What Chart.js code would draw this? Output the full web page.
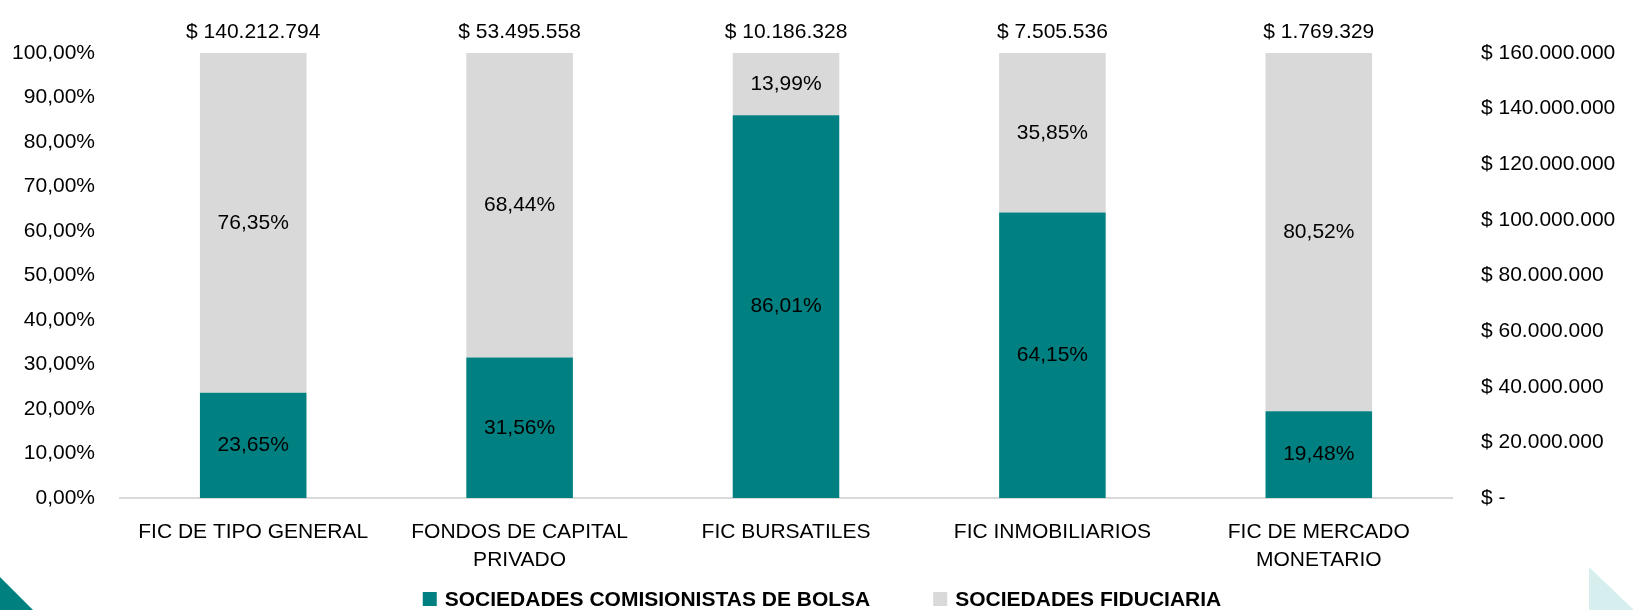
<!DOCTYPE html>
<html>
<head>
  <meta charset="utf-8">
  <title>fic</title>
  <script src="https://cdn.jsdelivr.net/npm/chart.js@4.4.1/dist/chart.umd.min.js"></script>
  <style>
    body { margin: 0; background: #fff; }
    #wrap { position: relative; width: 1636px; height: 610px; overflow: hidden; }
    .tri { position: absolute; }
    #tri-left { left: 0; top: 577px; width: 33px; height: 33px; background: #00807f; clip-path: polygon(0 0, 100% 100%, 0 100%); }
    #tri-right { left: 1589px; top: 567px; width: 47px; height: 45px; background: #d6eeee; clip-path: polygon(0 0, 100% 100%, 0 100%); }
  </style>
</head>
<body>
  <div id="wrap">
    <canvas id="chart"></canvas>
    <div class="tri" id="tri-left"></div>
    <div class="tri" id="tri-right"></div>
  </div>
  <script>
  const categories = [
    'FIC DE TIPO GENERAL',
    ['FONDOS DE CAPITAL', 'PRIVADO'],
    'FIC BURSATILES',
    'FIC INMOBILIARIOS',
    ['FIC DE MERCADO', 'MONETARIO']
  ];
  const comisionistas = [23.65, 31.56, 86.01, 64.15, 19.48];
  const fiduciarias = [76.35, 68.44, 13.99, 35.85, 80.52];
  const totals = [140212794, 53495558, 10186328, 7505536, 1769329];
  const seriesNames = ['SOCIEDADES COMISIONISTAS DE BOLSA', 'SOCIEDADES FIDUCIARIA'];

  const TEAL = '#008080';
  const GREY = '#d9d9d9';
  const FONT = "'Liberation Sans Narrow', 'Arial Narrow', 'Liberation Sans', Arial, sans-serif";
  const SIZE = 21;

  function miles(n) {
    return String(n).replace(/\B(?=(\d{3})+(?!\d))/g, '.');
  }
  function pct(v) {
    return v.toFixed(2).replace('.', ',') + '%';
  }

  // percentages inside the bars and totals above them
  const labelsPlugin = {
    id: 'barLabels',
    afterDatasetsDraw(chart) {
      const ctx = chart.ctx;
      ctx.save();
      ctx.font = SIZE + 'px ' + FONT;
      ctx.fillStyle = '#000';
      ctx.textAlign = 'center';
      ctx.textBaseline = 'middle';
      chart.data.datasets.forEach(function(ds, i) {
        chart.getDatasetMeta(i).data.forEach(function(bar, j) {
          ctx.fillText(pct(ds.data[j]), bar.x, (bar.y + bar.base) / 2);
        });
      });
      chart.getDatasetMeta(0).data.forEach(function(bar, j) {
        ctx.fillText('$ ' + miles(totals[j]), bar.x, chart.chartArea.top - 21);
      });
      ctx.restore();
    }
  };

  // legend drawn by hand to keep the wide gap between the two entries
  const legendPlugin = {
    id: 'bottomLegend',
    afterDraw(chart) {
      const ctx = chart.ctx;
      ctx.save();
      ctx.font = 'bold 21px ' + FONT;
      ctx.textBaseline = 'middle';
      const box = 14, gapText = 8, gapItem = 63;
      const widths = seriesNames.map(t => box + gapText + ctx.measureText(t).width);
      const total = widths[0] + widths[1] + gapItem;
      let x = chart.width / 2 - total / 2 + 4;
      const y = 599;
      chart.data.datasets.forEach(function(ds, i) {
        ctx.fillStyle = ds.backgroundColor;
        ctx.fillRect(x, y - box / 2, box, box);
        ctx.fillStyle = '#000';
        ctx.fillText(ds.label, x + box + gapText, y + 1);
        x += widths[i] + gapItem;
      });
      ctx.restore();
    }
  };

  Chart.defaults.font.family = FONT;
  Chart.defaults.color = '#000';

  new Chart(document.getElementById('chart'), {
    type: 'bar',
    data: {
      labels: categories,
      datasets: [{
        label: seriesNames[0],
        data: comisionistas,
        backgroundColor: TEAL,
        barPercentage: 0.4,
        categoryPercentage: 1
      }, {
        label: seriesNames[1],
        data: fiduciarias,
        backgroundColor: GREY,
        barPercentage: 0.4,
        categoryPercentage: 1
      }]
    },
    options: {
      responsive: true,
      maintainAspectRatio: false,
      animation: false,
      layout: { padding: { top: 53, left: 0, right: 0, bottom: 32 } },
      plugins: {
        legend: { display: false },
        tooltip: { enabled: false }
      },
      scales: {
        x: {
          stacked: true,
          grid: { display: false, drawTicks: false },
          border: { display: true, color: GREY, width: 2 },
          ticks: {
            font: { size: SIZE, lineHeight: 28 / SIZE },
            padding: 20,
            maxRotation: 0,
            autoSkip: false
          },
          afterFit(scale) { scale.height = 80; }
        },
        y: {
          stacked: true,
          position: 'left',
          min: 0,
          max: 100,
          grid: { display: false, drawTicks: false },
          border: { display: false },
          ticks: {
            stepSize: 10,
            padding: 25,
            font: { size: SIZE },
            callback: v => pct(v)
          },
          afterFit(scale) { scale.width = 120; }
        },
        y2: {
          position: 'right',
          min: 0,
          max: 160000000,
          grid: { display: false, drawTicks: false },
          border: { display: false },
          ticks: {
            stepSize: 20000000,
            padding: 29,
            font: { size: SIZE },
            callback: v => v === 0 ? '$ -' : '$ ' + miles(v)
          },
          afterFit(scale) { scale.width = 184; }
        }
      }
    },
    plugins: [labelsPlugin, legendPlugin]
  });
  </script>
</body>
</html>
